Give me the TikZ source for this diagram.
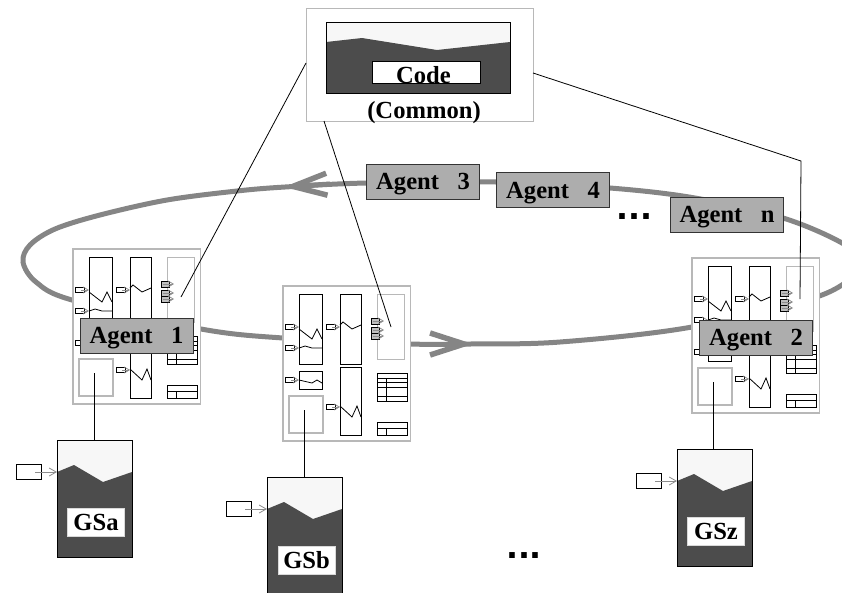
\documentclass[tikz,border=0pt]{standalone}
\usepackage{fontspec}
\setmainfont{Liberation Serif}
\newfontfamily\dotsfont{DejaVu Sans}
\usepackage{xcolor}
\usetikzlibrary{arrows.meta}

\definecolor{tankdark}{gray}{0.30}
\definecolor{tanklight}{gray}{0.97}
\definecolor{ringgray}{gray}{0.52}
\definecolor{agentgray}{gray}{0.68}
\definecolor{framegray}{gray}{0.72}

\begin{document}
\begin{tikzpicture}[
    x=1pt, y=-1pt,
    agentbox/.style={rectangle, draw=black!80, line width=0.8pt, fill=agentgray, minimum width=113pt, minimum height=35pt, inner sep=0pt, text height=16pt, text depth=0pt, font=\fontsize{24.6}{26}\selectfont\bfseries},
    labelbox/.style={rectangle, fill=white, draw=black!15, line width=0.5pt, minimum width=57pt, minimum height=28pt, inner sep=0pt, text height=16pt, text depth=0pt, font=\fontsize{24.6}{26}\selectfont\bfseries},
    dotslabel/.style={inner sep=0pt, font=\dotsfont\fontsize{31.5}{34}\selectfont\bfseries},
    thin line/.style={draw=black, line width=0.8pt},
    gray box/.style={draw=framegray, line width=1.5pt, fill=white},
    feed/.style={draw=black!45, line width=0.8pt, -{Straight Barb[length=5pt,width=6pt]}},
    ring/.style={draw=ringgray, line width=5pt},
    ring arrow/.style={ring, -{Straight Barb[length=34pt,width=22pt,line width=5.5pt]}},
    pics/agentframe/.style={code={
        \draw[gray box] (0,0) rectangle (127.5,155);
        % Columns
        \draw[thin line] (16,8) rectangle (39,78);
        \draw[thin line] (57,8) rectangle (78,78);
        \draw[thin line] (16,85) rectangle (39,103);
        \draw[thin line] (57,81) rectangle (78,149);
        \draw[draw=framegray, line width=1pt] (94,8) rectangle (121,73);
        \draw[gray box] (6,110) rectangle (40,147);
        % Tables
        \draw[thin line] (94,87) rectangle (124,115);
        \foreach \rowy in {92,96,101,110} \draw[thin line] (94,\rowy) -- (124,\rowy);
        \draw[thin line] (103,92) -- (103,115);
        \draw[thin line] (94,136) rectangle (124,149);
        \draw[thin line] (94,142) -- (124,142);
        \draw[thin line] (103,142) -- (103,149);
        % Traces
        \draw[thin line] (16,43) -- (29,53) -- (34,43) -- (39,53);
        \draw[thin line] (16,62) -- (22,60) -- (29,62) -- (39,62);
        \draw[thin line] (16,94) -- (29,97) -- (34,94) -- (39,97);
        \draw[thin line] (57,39) -- (60,36) -- (69,43) -- (78,39);
        \draw[thin line] (57,120) -- (69,131) -- (74,120) -- (78,131);
        % Inputs
        \foreach \inx/\iny/\endx in {2/41/16, 2/62/16, 2/94/16, 43/41/57, 43/121/57}{
            \draw[thin line, fill=white] (\inx,\iny-2.5) rectangle (\inx+9,\iny+2.5);
            \draw[feed] (\inx+6,\iny) -- (\endx,\iny);
        }
        \foreach \iny in {35,44,50}{
            \draw[thin line, fill=black!25] (88,\iny-3) rectangle (96,\iny+3);
            \draw[feed] (90,\iny) -- (101,\iny);
        }
        \coordinate (-store) at (21,124);
        \coordinate (-code) at (108,41);
    }},
    pics/tank/.style={code={
        \fill[tanklight] (0,0) rectangle (75,45);
        \fill[tankdark] (0,32) -- (17,25) -- (46,42) -- (75,32) -- (75,117) -- (0,117) -- cycle;
        \draw[thin line] (0,117) -- (0,0) -- (75,0) -- (75,117) -- cycle;
        \draw[thin line, fill=white] (-41,24) rectangle (-16,39);
        \draw[feed, -{Straight Barb[length=7pt,width=8pt]}] (-22,32) -- (0,32);
        \coordinate (-top) at (37,0);
    }}
]
    \clip (0,0) rectangle (842,592);

    % Ring
    \draw[ring] plot[smooth cycle, tension=0.55] coordinates {(285,187) (366,183) (496,182) (610,188) (695,198) (783,218) (842,243) (862,263) (822,295) (692,327) (560,342) (470,344) (411,344) (283,338) (201,329) (72,300) (36,282) (23,262) (30,245) (55,229) (100,215) (167,200) (237,191)};
    \coordinate (ringa) at (330,184);
    \coordinate (ringb) at (284,187);
    \coordinate (ringc) at (425,344);
    \coordinate (ringd) at (473,344);
    \draw[ring arrow] (ringa) -- (ringb);
    \draw[ring arrow] (ringc) -- (ringd);

    % Code block
    \node[rectangle, draw=framegray, fill=white, line width=0.8pt, minimum width=227pt, minimum height=113pt, inner sep=0pt] (common) at (419.5,64.5) {};
    \fill[tanklight] (326,22) rectangle (510,52);
    \fill[tankdark] (326,42) -- (362,38) -- (437,50) -- (510,42) -- (510,93) -- (326,93) -- cycle;
    \draw[thin line] (326,22) rectangle (510,93);
    \node[rectangle, draw=black, fill=white, line width=0.8pt, minimum width=108pt, minimum height=22pt, inner sep=0pt, text height=16pt, text depth=0pt, font=\fontsize{24.6}{26}\selectfont\bfseries] (code) at (426,72) {\hspace*{-5pt}\raisebox{-3pt}{Code}};
    \node[font=\fontsize{24.6}{26}\selectfont\bfseries, inner sep=0pt] (commonlabel) at (424,113) {(Common)};

    % Agent frames
    \pic (framea) at (73,249) {agentframe};
    \pic (frameb) at (283,286) {agentframe};
    \pic (framez) at (692,258) {agentframe};

    % Stores
    \pic (tanka) at (57,440) {tank};
    \pic (tankb) at (267,477) {tank};
    \pic (tankz) at (677,449) {tank};
    \node[labelbox] (gsa) at (96,522) {GSa};
    \node[labelbox] (gsb) at (306.5,560) {GSb};
    \node[labelbox] (gsz) at (716,531) {GSz};

    % Connectors
    \draw[thin line] (framea-store) -- (framea-store |- tanka-top);
    \draw[thin line] (frameb-store) -- (frameb-store |- tankb-top);
    \draw[thin line] (framez-store) -- (framez-store |- tankz-top);
    \coordinate (codebend) at (801,161);
    \coordinate (codea) at (306,63);
    \coordinate (codeb) at (324,121);
    \coordinate (codez) at (533,73);
    \draw[thin line] (codea) -- ([yshift=-7pt]framea-code);
    \draw[thin line] (codeb) -- (frameb-code);
    \draw[thin line] (codez) -- (codebend) -- (framez-code);

    % Agents
    \node[agentbox] (agent1) at (136.5,335.5) {Agent~~~1};
    \node[agentbox] (agent2) at (756,337.5) {Agent~~~2};
    \node[agentbox] (agent3) at (423,181.5) {Agent~~~3};
    \node[agentbox] (agent4) at (553,190) {Agent~~~4};
    \node[agentbox] (agentn) at (727,214.5) {Agent~~~n};

    % Dots
    \node[dotslabel] (dotstop) at (634,217) {...};
    \node[dotslabel] (dotsbottom) at (524,555.5) {...};
\end{tikzpicture}
\end{document}
